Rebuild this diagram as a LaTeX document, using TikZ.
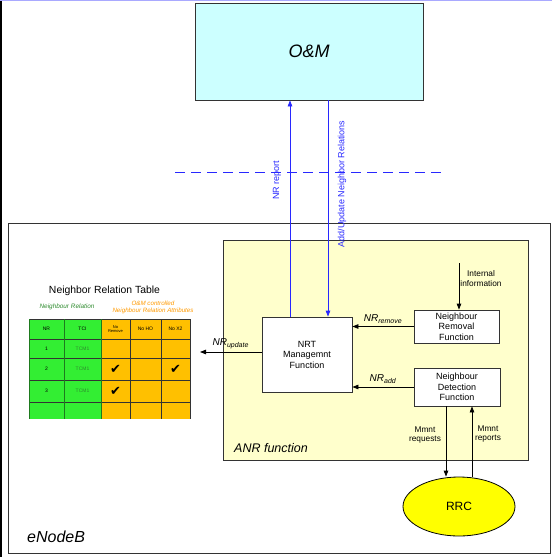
\documentclass[tikz,border=0pt]{standalone}
\usepackage{fontspec}
\setmainfont{Liberation Sans}
\newfontfamily\checkfont{DejaVu Sans}
\usetikzlibrary{arrows.meta,calc,shapes.geometric}
\definecolor{omcyan}{HTML}{CCFFFF}
\definecolor{anryellow}{HTML}{FFFFCC}
\definecolor{rrcyellow}{HTML}{FFFF00}
\definecolor{nrgreen}{HTML}{33EE33}
\definecolor{attrorange}{HTML}{FFC000}
\definecolor{linkblue}{HTML}{2828FF}
\definecolor{framegray}{HTML}{333333}
\definecolor{txtgreen}{HTML}{2E8B2E}
\definecolor{txtorange}{HTML}{FF9900}
\definecolor{gridgreen}{HTML}{1E7A1E}

\begin{document}
\begin{tikzpicture}[x=1pt,y=-1pt,
  box/.style={draw=framegray,line width=.8pt,fill=white,align=center,inner sep=0pt,font=\fontsize{9}{10.5}\selectfont},
  lbl/.style={align=center,inner sep=0pt,font=\fontsize{8.3}{9.5}\selectfont},
  nrlbl/.style={inner sep=0pt,font=\itshape\fontsize{10}{12}\selectfont},
  blbl/.style={inner sep=0pt,text=linkblue,font=\fontsize{9}{11}\selectfont},
  arr/.style={line width=.8pt,-{Triangle[length=6pt,width=4.5pt]}},
  blink/.style={linkblue,line width=.8pt},
  cell/.style={inner sep=0pt,align=center,font=\fontsize{5}{5.5}\selectfont},
  tick/.style={inner sep=0pt,font=\checkfont\fontsize{13}{13}\selectfont}]
  \useasboundingbox (0,0) rectangle (552,557);
  \draw[line width=1.5pt] (.75,0) -- (.75,557);
  \draw[linkblue!40,line width=.6pt] (0,.5) -- (552,.5);

  \node[box,fill=omcyan,minimum width=228pt,minimum height=97pt,font=\itshape\fontsize{18}{20}\selectfont] (om) at (309,51.5) {O\&M};
  \draw[blink,dash pattern=on 10pt off 6pt] (175,172) -- (445,172);

  \draw[framegray,line width=.8pt] (8,223) rectangle (550,553);
  \node[anchor=west,inner sep=0pt,font=\itshape\fontsize{16}{18}\selectfont] (enb) at (27,537) {eNodeB};
  \filldraw[fill=anryellow,draw=framegray,line width=.8pt] (223,240) rectangle (528,460);
  \node[anchor=west,inner sep=0pt,font=\itshape\fontsize{12.5}{14}\selectfont] (anr) at (234,448) {ANR function};

  \node[box,minimum width=90pt,minimum height=75pt] (nrt) at (307,354.5) {NRT\\Managemnt\\Function};
  \node[box,minimum width=85pt,minimum height=33pt] (rem) at (456.5,326.5) {Neighbour\\Removal\\Function};
  \node[box,minimum width=86pt,minimum height=38pt] (det) at (457,387) {Neighbour\\Detection\\Function};
  \node[ellipse,draw=black,fill=rrcyellow,line width=.8pt,minimum width=112pt,minimum height=59pt,font=\fontsize{12}{14}\selectfont] (rrc) at (459,506.5) {RRC};

  \coordinate (rpt) at (290,0);
  \coordinate (upd) at (328,0);
  \draw[blink,arr] (nrt.north -| rpt) -- (om.south -| rpt);
  \draw[blink,arr] (om.south -| upd) -- (nrt.north -| upd);
  \node[blbl,rotate=90] (rptlbl) at (277,180) {NR report};
  \node[blbl,rotate=90] (updlbl) at (342,184) {Add/Update Neighbor Relations};

  \coordinate (intop) at (459,263);
  \draw[arr] (intop) -- (rem.north -| intop);
  \node[lbl] (intlbl) at (481,278.5) {Internal\\information};

  \draw[arr] (rem.west) -- (rem.west -| nrt.east) node[nrlbl,midway,above=3pt] (remlbl) {NR\textsubscript{remove}};
  \draw[arr] (det.west) -- (det.west -| nrt.east) node[nrlbl,midway,above=3pt] (addlbl) {NR\textsubscript{add}};
  \coordinate (tabr) at (200,352);
  \draw[arr] (nrt.west |- tabr) -- (tabr) node[nrlbl,midway,above=3pt] (updtlbl) {NR\textsubscript{update}};

  \coordinate (reqx) at (446,0);
  \coordinate (repx) at (472,0);
  \draw[arr] (det.south -| reqx) -- (rrc.north -| reqx);
  \draw[arr] (rrc.north -| repx) -- (det.south -| repx);
  \node[lbl] (reqlbl) at (425,435) {Mmnt\\requests};
  \node[lbl] (replbl) at (488,434) {Mmnt\\reports};

  \node[inner sep=0pt,font=\fontsize{10.4}{12}\selectfont] (nrttitle) at (104.5,291) {Neighbor Relation Table};
  \node[inner sep=0pt,text=txtgreen,font=\itshape\fontsize{6.4}{7}\selectfont] (nrhead) at (67,307) {Neighbour Relation};
  \node[inner sep=0pt,align=center,text=txtorange,font=\itshape\fontsize{6.2}{7}\selectfont] (attrhead) at (153,307.5) {O\&M controlled\\Neighbour Relation Attributes};
  \fill[nrgreen] (29,319) rectangle (101,419);
  \fill[attrorange] (101,319) rectangle (190,419);
  \foreach \y in {319,339,358,380,402}
    \draw[framegray,line width=.8pt] (29,\y) -- (190,\y);
  \foreach \x in {29,64,101}
    \draw[gridgreen,line width=.8pt] (\x,319) -- (\x,419);
  \foreach \x in {130,161,190}
    \draw[framegray,line width=.8pt] (\x,319) -- (\x,419);
  \node[cell] (hnr) at (46.5,329) {NR};
  \node[cell] (htci) at (82.5,329) {TCI};
  \node[cell,font=\fontsize{4}{4.5}\selectfont] (hrem) at (115.5,329) {No\\Remove};
  \node[cell] (hho) at (145.5,329) {No HO};
  \node[cell] (hx2) at (175.5,329) {No X2};
  \foreach \n/\y in {1/348.5,2/369,3/391} {
    \node[cell] (nr\n) at (46.5,\y) {\n};
    \node[cell,text=txtgreen] (tci\n) at (82.5,\y) {TCM1};
  }
  \node[tick] (chka) at (115.5,369) {✔};
  \node[tick] (chkb) at (175.5,369) {✔};
  \node[tick] (chkc) at (115.5,391) {✔};
\end{tikzpicture}
\end{document}
